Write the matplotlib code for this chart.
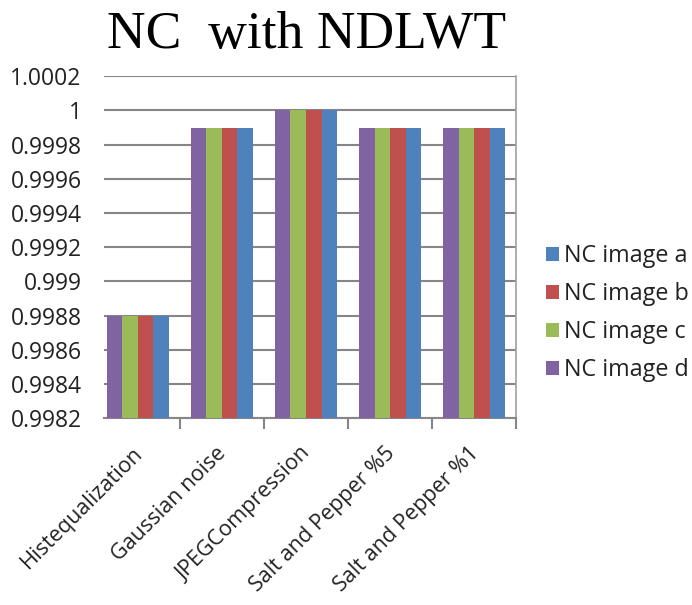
import matplotlib
matplotlib.use("Agg")
import matplotlib.pyplot as plt
import matplotlib.transforms as mtrans
import numpy as np

categories = ["Histequalization", "Gaussian noise", "JPEGCompression",
              "Salt and Pepper %5", "Salt and Pepper %1"]
nc_a = [0.9988, 0.9999, 1.0, 0.9999, 0.9999]
nc_b = [0.9988, 0.9999, 1.0, 0.9999, 0.9999]
nc_c = [0.9988, 0.9999, 1.0, 0.9999, 0.9999]
nc_d = [0.9988, 0.9999, 1.0, 0.9999, 0.9999]
y_ticks = [0.9982, 0.9984, 0.9986, 0.9988, 0.999, 0.9992, 0.9994,
           0.9996, 0.9998, 1.0, 1.0002]

plt.rcParams["font.family"] = ["Open Sans", "DejaVu Sans"]

fig = plt.figure(figsize=(6.92, 6.05), dpi=100)
ax = fig.add_axes([0.150, 0.309, 0.596, 0.565])

x = np.arange(len(categories))
w = 0.185
# drawn left to right: d, c, b, a
series = [("NC image d", nc_d, "#8064A2", -1.5),
          ("NC image c", nc_c, "#9BBB59", -0.5),
          ("NC image b", nc_b, "#C0504D", 0.5),
          ("NC image a", nc_a, "#4F81BD", 1.5)]
bars = {}
for name, vals, col, off in series:
    bars[name] = ax.bar(x + off * w, vals, width=w, color=col, zorder=3)

ax.set_ylim(0.9982, 1.0002)
ax.set_xlim(-0.405, 4.5)
ax.set_yticks(y_ticks)
ax.yaxis.set_major_formatter(matplotlib.ticker.FormatStrFormatter("%g"))
ax.yaxis.grid(True, color="#868686", linewidth=1.5, zorder=0)
ax.tick_params(axis="y", length=0, pad=16, labelsize=16.5, labelcolor="#222222")

# category labels at centers, ticks at boundaries
ax.set_xticks(x)
ax.set_xticklabels(categories, rotation=45, ha="right", va="top",
                   rotation_mode="anchor", fontsize=15.6, color="#222222")
ax.tick_params(axis="x", length=0, pad=14)
shift = mtrans.ScaledTranslation(-0.06, -0.05, fig.dpi_scale_trans)
for lbl in ax.get_xticklabels():
    lbl.set_transform(lbl.get_transform() + shift)
ax.set_xticks(x + 0.5, minor=True)
ax.tick_params(axis="x", which="minor", length=8, width=1.5, color="#868686",
               direction="out")

for s in ["top", "left"]:
    ax.spines[s].set_visible(False)
ax.spines["bottom"].set_color("#868686")
ax.spines["bottom"].set_linewidth(1.5)
ax.spines["right"].set_color("#A0A0A0")
ax.spines["right"].set_linewidth(1.2)

fig.text(0.443, 0.942, "NC  with NDLWT", family="Liberation Serif",
         fontsize=38.5, ha="center", va="center")

handles = [bars["NC image a"], bars["NC image b"], bars["NC image c"], bars["NC image d"]]
labels = ["NC image a", "NC image b", "NC image c", "NC image d"]
fig.legend(handles, labels, loc="center left", bbox_to_anchor=(0.789, 0.482),
           frameon=False, prop={"size": 16.8}, borderaxespad=0,
           handlelength=0.55, handleheight=0.55, handletextpad=0.22,
           labelspacing=0.6, borderpad=0, labelcolor="#222222")

plt.savefig("out.png", dpi=100)
